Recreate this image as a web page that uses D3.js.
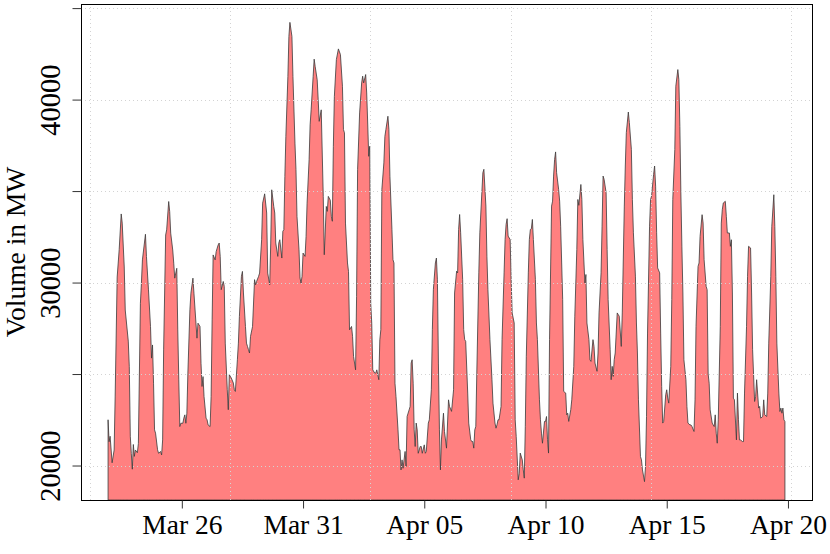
<!DOCTYPE html>
<html>
<head>
<meta charset="utf-8">
<script src="https://cdn.jsdelivr.net/npm/d3@7"></script>
<style>
  body { margin: 0; background: #fff; }
  text { font-family: "Liberation Serif", "Times New Roman", serif; fill: #000; }
</style>
</head>
<body>
<svg id="canvas"></svg>
<script>
'use strict';

// first reading, UTC; every reading below is [hours after start, MW]
var START_UTC = Date.UTC(2015, 2, 22, 23);

var volumeReadings = [
  [0,22500],[1,21300],[2,21600],[4,20150],[6,20850],[7,23750],[9,30300],[11,31800],[13,33750],[14,33250],
  [16,30850],[17,28500],[20,26800],[21,25400],[22,21600],[23,20650],[24,19800],[25,21150],[26,20500],[27,20850],
  [29,20700],[30,21200],[32,28870],[33,29960],[34,31240],[37,32640],[38,31420],[40,29600],[42,27600],[43,25870],
  [44,26590],[45,24500],[46,21950],[47,21770],[49,20860],[50,20670],[52,20770],[53,20580],[54,21400],[55,26320],
  [57,32600],[58,32880],[60,34430],[61,33880],[62,32700],[64,31780],[65,31060],[66,30240],[68,30780],[69,27410],
  [70,24680],[71,22130],[72,22310],[74,22310],[75,22590],[76,22770],[77,22310],[78,22860],[79,25050],[81,28510],
  [82,29420],[84,30240],[85,29420],[87,27780],[88,26960],[89,27780],[91,27600],[92,25590],[93,24320],[94,24860],
  [95,23770],[97,22590],[98,22500],[99,22220],[101,22130],[102,23770],[103,27960],[104,31510],[106,31240],[107,31690],
  [108,31880],[109,32060],[110,32160],[111,31430],[112,29610],[114,30060],[115,29790],[116,26690],[118,24140],[119,23050],
  [120,24960],[122,24780],[124,24510],[125,24140],[126,24050],[128,25780],[129,26690],[130,28150],[132,30340],[133,30610],
  [134,29430],[136,27600],[137,26690],[138,26510],[139,26330],[140,26150],[141,27060],[143,27600],[145,30160],[146,29880],
  [147,30060],[149,30340],[150,30520],[152,32340],[153,34340],[155,34850],[157,33800],[158,30520],[160,29880],[161,32160],
  [162,35070],[164,34160],[165,33800],[166,32160],[168,31430],[169,32160],[170,32340],[172,31340],[173,32800],[174,32890],
  [175,35800],[176,37990],[178,41270],[179,43450],[180,44220],[182,43450],[183,41270],[185,37620],[186,36170],[187,33620],
  [189,31790],[190,30250],[191,29970],[192,30340],[193,31610],[195,31430],[196,32520],[197,34340],[199,36710],[200,38620],
  [201,39440],[203,41270],[204,42210],[205,41810],[207,41080],[208,39990],[209,38810],[211,39440],[212,37080],[213,34710],
  [214,31520],[216,34160],[217,33890],[218,34710],[220,34500],[221,33620],[222,33350],[223,37450],[224,40180],[226,42190],
  [228,42770],[230,42460],[232,40730],[233,38360],[234,38180],[235,33250],[237,31070],[238,30610],[239,27420],[241,27600],
  [242,27060],[243,25960],[245,25230],[246,29240],[247,36170],[249,39270],[251,40910],[252,41280],[253,40910],[255,41370],
  [256,40360],[257,38720],[258,36900],[259,37450],[260,28880],[261,27780],[262,25230],[264,25050],[265,25050],[266,25230],
  [268,24690],[269,26870],[270,27420],[271,35080],[273,36540],[274,37990],[275,38360],[277,39090],[278,38360],[279,35810],
  [281,32890],[282,31250],[283,31070],[284,24500],[285,23770],[287,21950],[288,20860],[289,20860],[290,19760],[291,20310],
  [292,19850],[294,20770],[295,19950],[296,22680],[298,23040],[299,23230],[300,25600],[301,25780],[302,24500],[303,21950],
  [304,21040],[305,22320],[306,21950],[307,20670],[309,21040],[310,21040],[311,20670],[313,21130],[314,20670],[315,20770],
  [317,22320],[318,22500],[320,24140],[321,27420],[322,29610],[324,31070],[325,31340],[326,30150],[327,25600],[328,21950],
  [329,19760],[330,21400],[332,22860],[333,21860],[335,20950],[337,23590],[338,23230],[340,22960],[342,24140],[343,29430],
  [345,30620],[346,30530],[347,32900],[348,33720],[349,32720],[351,30160],[352,27430],[353,26880],[354,26790],[356,23960],
  [357,22320],[359,21410],[360,21310],[361,21310],[362,20950],[363,21950],[364,22140],[365,25050],[367,30530],[368,32720],
  [370,34910],[371,36000],[372,36190],[374,34180],[375,31440],[376,29620],[378,26880],[380,24690],[381,23410],[383,22320],
  [384,22040],[385,22230],[386,22500],[387,22500],[389,23230],[390,26880],[392,30530],[393,32350],[394,33180],[395,33490],
  [396,32540],[398,32350],[399,30160],[400,28340],[402,27790],[403,22500],[404,21590],[406,19220],[407,19580],[408,20680],
  [410,20310],[411,19760],[412,19310],[413,22140],[414,25970],[416,30530],[417,32350],[418,32900],[419,32940],[420,33450],
  [421,32350],[423,30160],[424,27790],[425,26880],[427,23590],[428,22500],[429,21770],[430,21220],[432,22410],[433,22410],
  [434,22680],[435,21410],[436,20680],[437,26880],[439,34180],[440,34450],[441,35820],[442,36730],[443,37140],[444,36000],
  [446,35090],[447,34450],[448,33080],[450,29070],[451,24050],[453,23960],[454,22770],[455,22860],[456,22410],[458,23050],
  [459,23590],[461,25420],[462,28160],[464,31810],[465,34540],[466,34220],[468,35360],[469,34540],[470,32350],[472,29980],
  [473,30440],[474,27790],[476,26880],[477,25780],[478,25690],[480,26880],[481,26510],[482,25600],[484,25150],[485,26150],
  [486,28340],[488,30530],[489,33080],[490,35820],[491,35640],[493,34910],[494,31810],[495,29070],[497,26330],[498,24690],
  [499,25420],[500,24870],[501,25780],[502,26150],[504,28340],[505,28250],[506,28160],[508,26510],[509,28340],[511,34180],
  [512,36370],[513,38190],[515,39320],[516,38740],[518,37280],[519,34540],[520,32720],[522,30350],[523,27790],[524,26150],
  [525,23590],[527,20490],[528,20310],[529,19760],[531,19120],[532,19950],[533,22680],[534,27240],[536,33080],[537,34540],
  [538,34730],[540,35910],[541,36370],[542,35270],[543,32720],[544,30800],[546,30530],[547,27240],[548,24320],[549,22320],
  [550,22410],[552,23870],[553,24140],[554,23690],[555,23410],[557,25420],[558,29070],[559,34540],[561,37270],[562,40730],
  [564,41640],[565,41090],[566,38540],[567,34900],[568,31990],[569,29430],[570,25780],[572,24690],[573,23230],[574,22320],
  [576,22220],[577,22220],[578,22130],[580,21860],[581,23590],[582,27600],[584,30880],[585,31070],[586,32520],[588,33710],
  [589,33250],[590,31250],[592,29790],[593,29610],[594,25000],[595,24500],[596,23040],[598,22320],[599,22220],[600,22130],
  [601,22770],[602,21770],[603,21220],[604,22500],[606,27600],[607,33250],[608,33980],[609,34350],[611,34440],[612,33620],
  [613,32710],[615,32710],[616,31980],[617,32340],[618,29430],[619,23680],[620,23590],[622,21400],[623,23960],[624,22500],
  [625,21400],[626,21400],[628,21310],[629,21310],[630,23960],[632,27600],[633,30340],[634,31980],[636,31890],[637,29430],
  [638,26330],[640,23500],[641,23770],[642,24690],[644,23140],[645,23230],[646,22590],[648,22680],[649,23590],[650,22770],
  [652,22680],[653,23960],[654,26690],[656,30340],[657,33070],[659,34800],[660,33070],[661,30340],[662,26690],[664,23960],
  [665,22950],[666,23140],[667,22860],[668,23140],[669,22500],[670,22400]
];

var xTickDates = [
  Date.UTC(2015, 2, 26), Date.UTC(2015, 2, 31), Date.UTC(2015, 3, 5),
  Date.UTC(2015, 3, 10), Date.UTC(2015, 3, 15), Date.UTC(2015, 3, 20)
];
var yTickValues = [20000, 25000, 30000, 35000, 40000, 45000];
var yLabelValues = [20000, 30000, 40000];
var yTitle = 'Volume in MW';

var WIDTH = 830, HEIGHT = 554;
var PLOT = { left: 81, right: 812, top: 4, bottom: 500 };
var HOUR = 3600 * 1000;
var GRID_STEP = 500000 * 1000; // grid follows pretty() on seconds

function PadRange(lo, hi) {
  var pad = (hi - lo) * 0.04;
  return [lo - pad, hi + pad];
}

function RenderChart() {
  var points = volumeReadings.map(function(r) {
    return { date: new Date(START_UTC + r[0] * HOUR), value: r[1] };
  });

  var x = d3.scaleUtc()
      .domain(PadRange(points[0].date.getTime(), points[points.length - 1].date.getTime()))
      .range([PLOT.left, PLOT.right]);
  var y = d3.scaleLinear()
      .domain(PadRange(d3.min(points, function(p) { return p.value; }),
                       d3.max(points, function(p) { return p.value; })))
      .range([PLOT.bottom, PLOT.top]);

  var svg = d3.select('#canvas')
      .attr('width', WIDTH)
      .attr('height', HEIGHT);

  var area = d3.area()
      .x(function(p) { return x(p.date); })
      .y0(PLOT.bottom)
      .y1(function(p) { return y(p.value); });

  svg.append('path')
      .datum(points)
      .attr('d', area)
      .attr('fill', 'rgb(255,128,128)')
      .attr('stroke', '#3a3a3a')
      .attr('stroke-width', 0.8)
      .attr('stroke-linejoin', 'round');

  // dotted grid, drawn over the area like grid() after polygon()
  var xd = x.domain();
  var gridTimes = d3.range(Math.ceil(xd[0] / GRID_STEP), Math.floor(xd[1] / GRID_STEP) + 1)
      .map(function(k) { return k * GRID_STEP; });
  var grid = svg.append('g')
      .attr('stroke', '#d3d3d3')
      .attr('stroke-width', 1)
      .attr('stroke-dasharray', '1,3');
  grid.selectAll('line.gx')
      .data(gridTimes)
    .enter().append('line')
      .attr('x1', function(t) { return Math.round(x(t)) + 0.5; })
      .attr('x2', function(t) { return Math.round(x(t)) + 0.5; })
      .attr('y1', PLOT.bottom)
      .attr('y2', PLOT.top);
  grid.selectAll('line.gy')
      .data(yTickValues)
    .enter().append('line')
      .attr('x1', PLOT.left)
      .attr('x2', PLOT.right)
      .attr('y1', function(v) { return Math.round(y(v)) + 0.5; })
      .attr('y2', function(v) { return Math.round(y(v)) + 0.5; });

  svg.append('rect')
      .attr('x', PLOT.left + 0.5)
      .attr('y', PLOT.top + 0.5)
      .attr('width', PLOT.right - PLOT.left)
      .attr('height', PLOT.bottom - PLOT.top)
      .attr('fill', 'none')
      .attr('stroke', '#000')
      .attr('stroke-width', 1);

  var xAxis = d3.axisBottom(x)
      .tickValues(xTickDates.map(function(t) { return new Date(t); }))
      .tickFormat(d3.utcFormat('%b %d'))
      .tickSize(8)
      .tickPadding(6);
  var gx = svg.append('g')
      .attr('transform', 'translate(0,' + (PLOT.bottom + 0.5) + ')')
      .call(xAxis);
  gx.select('.domain').remove();
  gx.selectAll('line').attr('stroke', '#333');
  gx.selectAll('text')
      .attr('font-size', 27.5)
      .attr('font-family', '"Liberation Serif", serif')
      .attr('fill', '#000');

  var yAxis = d3.axisLeft(y)
      .tickValues(yTickValues)
      .tickFormat(function(v) { return yLabelValues.indexOf(v) >= 0 ? v : ''; })
      .tickSize(9);
  var gy = svg.append('g')
      .attr('transform', 'translate(' + (PLOT.left + 0.5) + ',0)')
      .call(yAxis);
  gy.select('.domain').remove();
  gy.selectAll('line').attr('stroke', '#333');
  gy.selectAll('text')
      .attr('font-size', 28.5)
      .attr('font-family', '"Liberation Serif", serif')
      .attr('fill', '#000')
      .attr('x', null)
      .attr('dy', null)
      .attr('text-anchor', 'middle')
      .attr('transform', 'translate(-21.5,0) rotate(-90)');

  svg.append('text')
      .text(yTitle)
      .attr('font-size', 27.5)
      .attr('text-anchor', 'middle')
      .attr('transform', 'translate(24.5,' + ((PLOT.top + PLOT.bottom) / 2) + ') rotate(-90)');
}

RenderChart();
</script>
</body>
</html>
